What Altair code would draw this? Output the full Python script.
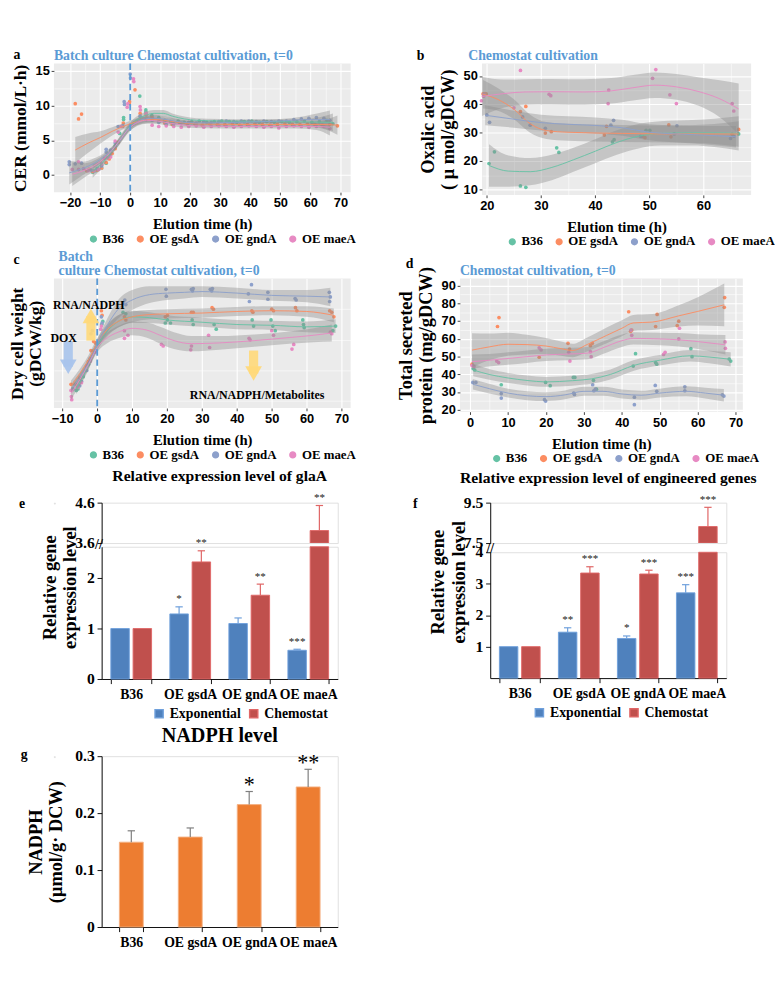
import json
import altair as alt
import pandas as pd

SERIF = "Liberation Serif"
SANS = "Liberation Sans"
BLUE_TXT = "#5B9BD5"

SERIES = ["B36", "OE gsdA", "OE gndA", "OE maeA"]
SERIES_COLORS = ["#66C2A5", "#FC8D62", "#8DA0CB", "#E78AC3"]

# ---------------- panel a : CER (x = elution time h, y = mmol/L/h) ----------------
A_PTS_B36 = [(-12.5,0.4),(-11.5,0.6),(-10.5,0.8),(-9.5,1.0),(-8,1.7),(-6.5,2.9),(-5,4.2),(-3.5,6.0),(-2.2,8.0),(-2.2,8.3),(3.2,11.4),(5.2,9.4),(5.2,9.1),(7.2,8.6),(9.5,8.3),(11.5,7.9),(13.5,7.7),(16,7.8),(18,7.6),(20.5,7.7),(23,7.8),(25.5,7.6),(28,7.7),(30.5,7.8),(33,7.7),(35.5,7.6),(38,7.7),(40.5,7.8),(43,7.6),(45.5,7.7),(48,7.6),(50.5,7.7),(53,7.6),(55.5,7.7),(58,7.8),(60.5,7.6),(63,7.7),(65.5,7.9),(67.5,7.4)]
A_PTS_GSDA = [(-18.3,10.3),(-17.2,8.1),(-16.2,8.8),(-14.5,0.6),(-13.7,0.8),(-12.5,0.5),(-11,0.7),(-9.5,1.0),(-8,1.8),(-7,2.3),(-6,3.1),(-5,3.8),(-4,4.7),(-2.5,7.0),(-2.3,7.5),(-0.3,10.3),(-0.2,10.6),(1.6,12.3),(3.3,8.9),(5.3,8.7),(7.3,8.3),(9.5,7.7),(11.5,7.5),(14,7.3),(16.5,7.5),(19,7.3),(21.5,7.4),(24,7.2),(26.5,7.4),(29,7.3),(31.5,7.3),(34,7.4),(36.5,7.2),(39,7.3),(41.5,7.4),(44,7.3),(46.5,7.2),(49,7.3),(51.5,7.4),(54,7.3),(56.5,7.3),(59,7.4),(61.5,7.3),(64,7.2),(66.5,7.3),(69,7.1)]
A_PTS_GNDA = [(-20.3,1.9),(-20.3,1.5),(-18.3,1.6),(-16.2,1.7),(-13,0.7),(-11,0.9),(-9.5,1.3),(-8,3.7),(-8,3.3),(-6.5,3.6),(-5,4.6),(-4,7.0),(-2.5,7.1),(-2,10.6),(-1.9,10.2),(0,14.6),(0.1,14.0),(3.3,8.5),(5.3,8.0),(7.3,7.9),(9.5,7.6),(12,7.3),(14.5,7.4),(17,7.5),(19.5,7.6),(22,7.5),(24.5,7.7),(27,7.6),(29.5,7.7),(32,7.8),(34.5,7.7),(37,7.8),(39.5,7.8),(42,7.7),(44.5,7.8),(47,7.7),(49.5,7.8),(52,7.8),(54.5,8.0),(57,8.1),(59.5,8.2),(62,8.3),(64.5,8.2),(66.5,7.9)]
A_PTS_MAEA = [(-19.3,0.8),(-17.2,1.9),(-17.2,0.8),(-15.5,0.9),(-14,0.6),(-12,0.6),(-10.5,0.8),(-9.5,1.6),(-8.5,2.4),(-7.5,2.5),(-6.5,2.6),(-5,4.9),(-4,6.2),(-3,7.0),(-1,9.8),(-0.8,10.3),(1.1,13.9),(1.2,13.5),(3.3,9.9),(3.4,9.4),(5.3,8.9),(7.3,7.2),(9.5,7.0),(12,7.1),(14.5,7.0),(17,6.9),(19.5,7.0),(22,7.1),(24.5,6.9),(27,7.0),(29.5,7.1),(32,7.0),(34.5,6.9),(37,7.0),(39.5,7.1),(42,7.0),(44.5,6.9),(47,7.0),(49.5,6.8),(52,7.0),(54.5,7.1),(57,7.0),(59.5,6.9),(62,7.0),(64.5,7.0),(66.5,6.7)]
# smooth fits: (x, fitted y, half width of grey band)
A_FIT_B36 = [(-12.5,0.6,1.0),(-10,1.4,0.7),(-7,2.9,0.5),(-4,4.7,0.5),(-1,6.6,0.5),(2,7.9,0.5),(5,8.6,0.5),(8,8.9,0.5),(11,8.9,0.5),(14,8.5,0.4),(18,8.1,0.35),(22,7.9,0.3),(30,7.8,0.3),(40,7.75,0.3),(50,7.7,0.3),(60,7.65,0.5),(67.5,7.6,1.3)]
A_FIT_GSDA = [(-18.3,3.6,1.9),(-14,4.6,1.4),(-10,5.4,0.9),(-6,6.3,0.6),(-3,6.9,0.45),(0,7.4,0.45),(3,7.8,0.5),(6,8.0,0.5),(9,8.0,0.45),(13,7.8,0.4),(18,7.5,0.35),(25,7.35,0.3),(35,7.3,0.3),(45,7.3,0.3),(55,7.3,0.3),(63,7.3,0.5),(69,7.2,1.4)]
A_FIT_GNDA = [(-20.3,0.3,1.7),(-16,0.9,1.0),(-12,1.7,0.7),(-8,2.9,0.5),(-4,4.6,0.5),(-1,6.4,0.5),(2,7.6,0.5),(5,8.1,0.5),(8,8.2,0.5),(12,8.0,0.4),(16,7.7,0.35),(22,7.5,0.3),(30,7.55,0.3),(40,7.65,0.3),(50,7.8,0.3),(58,8.0,0.5),(66.5,8.0,1.3)]
A_FIT_MAEA = [(-19.3,0.1,1.7),(-15,0.7,1.0),(-11,1.6,0.7),(-7,3.1,0.5),(-3.5,5.0,0.5),(-0.5,6.7,0.5),(2.5,7.6,0.5),(5.5,7.9,0.5),(9,7.8,0.45),(13,7.5,0.4),(18,7.2,0.35),(25,7.05,0.3),(35,7.0,0.3),(45,7.0,0.3),(55,7.0,0.3),(62,7.0,0.5),(66.5,6.9,1.2)]

# ---------------- panel b : oxalic acid ----------------
B_PTS_B36 = [(20.4,19.2),(21.4,23.3),(26.2,11.3),(27.2,10.8),(32.9,24.7),(33.3,23.1),(43.2,26.8),(43.5,27.6),(49.4,30.9),(50.1,30.9),(66.5,29.6)]
B_PTS_GSDA = [(19.3,43.7),(19.6,43.7),(19.9,43.7),(26.2,37.5),(27.2,39.3),(30.8,29.9),(31.9,30.4),(41.7,29.2),(42.1,32.3),(48.8,28.7),(49.2,28.3),(53.6,32.8),(54.0,28.6),(65.3,29.5),(66.5,31.2)]
B_PTS_GNDA = [(20.0,36.3),(20.5,33.7),(26.6,35.6),(28.0,32.7),(30.8,31.6),(42.9,32.7),(43.4,34.4),(48.4,28.8),(55.1,32.5),(54.6,29.6),(65.0,28.0),(65.6,28.8)]
B_PTS_MAEA = [(19.0,41.3),(19.4,42.9),(19.5,43.6),(25.0,38.8),(26.2,52.0),(31.5,43.6),(31.8,43.1),(42.4,40.3),(42.5,45.1),(50.6,49.2),(51.2,52.3),(53.8,43.4),(55.0,40.3),(65.3,40.3),(65.6,37.7)]
B_FIT_B36 = [(20.4,18.5,7.5),(24,16.5,5.5),(28,16.3,4.8),(32,17.8,4.5),(36,20.5,4.2),(40,23.5,4.2),(44,26.6,4.3),(48,28.8,4.3),(52,29.8,4.3),(58,30.0,4.5),(62,30.0,5.0),(66.5,29.8,6.0)]
B_FIT_GSDA = [(19.3,43.6,5.0),(22,41.8,4.0),(25,38.3,3.5),(28,33.2,3.2),(31,30.8,3.0),(35,30.2,3.0),(45,29.8,3.0),(55,29.6,3.0),(62,29.6,3.5),(66.5,29.6,4.5)]
B_FIT_GNDA = [(19.7,36.2,3.5),(25,34.8,3.0),(30,33.6,2.8),(35,33.0,2.8),(40,32.6,2.8),(45,31.8,2.8),(50,30.2,2.8),(55,29.6,3.0),(60,29.2,3.2),(66,28.6,3.8)]
B_FIT_MAEA = [(19,42.8,7.0),(23,43.8,5.0),(27,44.4,4.5),(32,44.5,4.5),(38,44.4,4.5),(43,44.8,4.5),(47,45.9,4.5),(51,46.8,4.5),(55,46.2,4.5),(59,44.6,5.0),(63,42.0,6.5),(66.5,38.4,9.0)]

# ---------------- panel c : dry cell weight ----------------
C_PTS_B36 = [(-6.0,1.7),(-5.5,1.8),(-4,2.6),(-2.5,3.4),(-1,4.3),(1.6,6.2),(1.3,6.0),(7.4,6.8),(8.2,6.7),(19.5,6.1),(20.1,6.3),(21,6.1),(27.2,6.3),(27.5,6.0),(34.1,5.7),(33.5,6.0),(44.4,6.3),(44.8,5.9),(49.8,6.3),(50.3,5.9),(51,5.6),(58.9,6.3),(59.1,6.0),(59.3,5.8),(67.5,5.6),(68.3,5.9)]
C_PTS_GSDA = [(-7.5,2.1),(-6.3,2.1),(-5,2.5),(-3.2,3.0),(-2.5,3.6),(-1.8,4.3),(-1.0,4.9),(-0.5,4.8),(1.2,6.9),(1.4,6.6),(7.8,6.5),(8.2,6.3),(20.1,6.6),(19.5,6.5),(27.0,6.8),(27.5,6.8),(32.9,7.1),(33.3,7.0),(44.3,6.9),(44.6,6.8),(50.0,7.0),(50.5,6.9),(56.8,7.1),(57.2,6.9),(66.6,6.9),(67.2,6.8),(67.8,6.5)]
C_PTS_GNDA = [(-7,1.8),(-5,2.0),(-4.5,2.3),(-3,3.0),(-2,3.8),(-1.8,5.4),(-1.4,5.6),(1.2,6.5),(1.4,6.1),(7.4,7.4),(7.9,7.6),(8.2,7.3),(19.7,8.3),(19.8,7.85),(27.0,8.3),(27.3,8.2),(27.5,8.35),(32.4,8.3),(32.8,8.2),(33.0,8.35),(43.3,8.0),(43.6,7.5),(44.2,8.6),(48.9,8.1),(48.9,7.65),(56.7,7.7),(57.0,7.6),(66.5,8.1),(66.8,7.8),(66.6,7.5)]
C_PTS_MAEA = [(-7.5,1.7),(-7.4,1.3),(-7.3,1.1),(-5.5,1.9),(-4.5,2.2),(-3,3.3),(-2,3.6),(-0.5,4.2),(1.2,5.9),(1.0,5.7),(7.8,5.6),(7.8,5.1),(8.8,5.3),(18.4,4.7),(18.9,4.6),(26.8,4.35),(27.0,4.6),(31.9,5.3),(32.2,4.5),(43.5,5.1),(43.8,5.0),(50.0,5.6),(50.5,5.3),(55.8,4.4),(56.3,4.7),(66.8,5.5),(67.2,5.4)]
C_FIT_B36 = [(-6,1.8,0.35),(-3,3.1,0.3),(0,4.6,0.3),(3,5.6,0.35),(6,6.2,0.4),(10,6.5,0.4),(15,6.45,0.35),(20,6.3,0.3),(30,6.15,0.3),(40,6.0,0.3),(50,5.95,0.3),(60,5.85,0.35),(68.3,5.9,0.45)]
C_FIT_GSDA = [(-7.5,2.0,0.35),(-5,2.8,0.3),(-2.5,3.7,0.3),(0,4.8,0.3),(3,5.7,0.35),(6,6.2,0.4),(10,6.5,0.35),(15,6.65,0.3),(20,6.7,0.3),(30,6.75,0.3),(40,6.85,0.3),(50,6.9,0.3),(60,6.85,0.35),(67.8,6.6,0.45)]
C_FIT_GNDA = [(-7,1.9,0.35),(-4.5,2.7,0.3),(-2,3.7,0.3),(0,4.7,0.3),(3,6.0,0.45),(6,7.0,0.6),(10,7.6,0.65),(15,7.95,0.55),(20,8.05,0.45),(25,8.1,0.4),(30,8.15,0.35),(40,8.05,0.35),(50,7.9,0.35),(60,7.85,0.4),(66.8,7.8,0.6)]
C_FIT_MAEA = [(-7.5,1.5,0.4),(-5,2.4,0.35),(-2.5,3.4,0.3),(0,4.5,0.3),(3,5.15,0.35),(6,5.5,0.4),(10,5.75,0.45),(14,5.65,0.5),(18,5.3,0.55),(22,4.95,0.55),(27,4.75,0.5),(35,4.8,0.45),(45,4.95,0.4),(55,5.15,0.4),(62,5.3,0.45),(67.2,5.45,0.55)]
# annotations of panel c (data coordinates)
C_ARROW_X = [-1.8, -8.3, 44.8]
C_ARROW_FROM = [4.95, 4.9, 4.3]
C_ARROW_HEAD = [6.55, 3.25, 2.8]
C_ARROW_SHAPE = ["triangle-up", "triangle-down", "triangle-down"]
C_ARROW_COLOR = ["#FFD97A", "#A9C4EC", "#FFD97A"]
C_NOTE_X = [-2.4, -9.6, 45.8]
C_NOTE_Y = [7.25, 5.1, 1.4]
C_NOTE_TEXT = ["RNA/NADPH", "DOX", "RNA/NADPH/Metabolites"]

# ---------------- panel d : total secreted protein ----------------
D_PTS_B36 = [(0.8,43.3),(1.2,42.5),(8.2,34.2),(19.9,35.5),(21.1,33.7),(27.2,38.3),(27.6,38.3),(32.5,36.7),(33.3,31.7),(43.0,44.7),(43.6,51.7),(48.9,46.7),(49.2,45.8),(58.2,54.5),(58.5,50.0),(68.3,48.7),(68.7,47.5)]
D_PTS_GSDA = [(0.5,45.8),(7.2,67.0),(7.6,72.0),(18.2,49.7),(25.8,57.5),(26.2,54.3),(31.7,56.2),(32.2,57.5),(41.8,75.3),(42.3,64.3),(42.6,65.0),(48.9,67.0),(49.3,73.8),(54.6,67.5),(55.0,70.0),(67.1,83.3),(67.0,77.8)]
D_PTS_GNDA = [(0.7,35.5),(1.5,35.5),(8.2,29.2),(8.2,26.7),(19.6,25.8),(19.9,25.0),(27.3,29.5),(27.5,28.7),(32.3,34.2),(32.6,30.8),(33.0,31.7),(43.3,27.2),(43.3,23.0),(48.8,33.8),(49.2,30.5),(56.6,33.0),(56.6,30.8),(66.5,28.5),(66.9,27.8)]
D_PTS_MAEA = [(0.5,45.0),(1.0,44.5),(7.0,47.5),(7.5,46.7),(18.2,55.0),(18.7,53.8),(26.0,52.5),(26.3,47.5),(31.7,52.8),(31.9,50.0),(42.4,65.0),(42.6,62.0),(51.0,51.3),(51.4,52.5),(55.0,60.0),(55.2,66.0),(67.2,58.3),(67.3,54.7)]
D_FIT_B36 = [(0.8,42.5,3.5),(5,40.0,3.0),(10,38.0,2.8),(15,36.6,2.8),(20,35.8,2.8),(27,36.5,2.8),(32,37.5,2.8),(37,40.0,2.8),(43,45.0,3.0),(50,48.0,3.0),(58,50.5,3.2),(63,49.8,3.5),(68.7,48.5,4.0)]
D_FIT_GSDA = [(0.5,53.7,9.5),(5,55.5,7.5),(10,57.0,6.5),(15,56.8,5.5),(20,56.0,4.5),(24,54.5,4.0),(27,53.5,3.8),(31,57.0,4.0),(36,62.0,4.5),(40,66.0,4.5),(43,69.0,4.5),(48,69.5,4.5),(55,73.0,6.0),(60,75.5,8.0),(67,79.2,12.0)]
D_FIT_GNDA = [(0.7,34.5,3.0),(5,32.0,2.8),(10,29.5,2.5),(15,28.0,2.5),(20,27.5,2.5),(25,28.5,2.5),(30,30.5,2.5),(35,30.5,2.5),(40,29.0,2.5),(45,28.3,2.5),(50,29.5,2.5),(57,30.5,2.8),(62,29.5,3.0),(66.9,28.3,3.5)]
D_FIT_MAEA = [(0.5,47.2,4.0),(5,48.0,3.5),(10,49.0,3.5),(15,50.0,3.5),(20,51.0,3.5),(26,51.5,3.5),(31,52.0,3.5),(35,55.0,3.5),(40,59.0,3.5),(43,60.3,3.5),(50,60.0,3.5),(55,59.5,3.8),(60,58.5,4.2),(67.3,56.7,5.5)]

# ---------------- panels e, f, g : bar charts ----------------
GENOTYPES = ["B36", "OE gsdA", "OE gndA", "OE maeA"]
CONDITIONS = ["Exponential", "Chemostat"]
E_EXP = [1.0, 1.29, 1.10, 0.57]
E_EXP_SD = [0.0, 0.14, 0.11, 0.02]
E_EXP_SIG = ["", "*", "", "***"]
E_CHEM = [1.0, 2.32, 1.66, 3.91]
E_CHEM_SD = [0.0, 0.22, 0.22, 0.62]
E_CHEM_SIG = ["", "**", "**", "**"]
F_EXP = [1.0, 1.46, 1.26, 2.71]
F_EXP_SD = [0.0, 0.14, 0.08, 0.26]
F_EXP_SIG = ["", "**", "*", "***"]
F_CHEM = [1.0, 3.34, 3.31, 8.32]
F_CHEM_SD = [0.0, 0.20, 0.12, 0.95]
F_CHEM_SIG = ["", "***", "***", "***"]
G_NADPH = [0.149, 0.158, 0.215, 0.246]
G_NADPH_SD = [0.020, 0.016, 0.023, 0.031]
G_NADPH_SIG = ["", "", "*", "**"]


def pts_frame(lists):
    rows = []
    for s, pts in zip(SERIES, lists):
        for x, y in pts:
            rows.append({"series": s, "x": x, "y": y})
    return pd.DataFrame(rows)


def fit_frame(lists):
    rows = []
    for s, pts in zip(SERIES, lists):
        for x, y, hw in pts:
            rows.append({"grp": s, "x": x, "y": y, "lo": y - hw, "hi": y + hw})
    return pd.DataFrame(rows)


def gg_axis(majors, minors, title, title_size=16, title_pad=8, line_height=None):
    test = "indexof(%s, datum.value) >= 0" % json.dumps(majors)
    return alt.Axis(
        values=sorted(majors + minors), labelExpr=f"{test} ? datum.label : ''",
        grid=True, gridColor="white",
        gridWidth={"condition": {"test": test, "value": 1.2}, "value": 0.6},
        tickOpacity={"condition": {"test": test, "value": 1}, "value": 0},
        tickColor="#333333", tickSize=3, domain=False, labelOverlap=False, labelFlush=False,
        labelFont=SANS, labelFontWeight="bold", labelFontSize=14, labelColor="black", labelPadding=2,
        title=title, titleFont=SERIF, titleFontWeight="bold", titleFontSize=title_size,
        titleColor="black", titlePadding=title_pad, titleLineHeight=line_height or title_size + 2)


def bottom_legend(pad_x, offset, font_size, symbol_type, symbol_size, column_padding=10, label_offset=3):
    return alt.Legend(orient="bottom", direction="horizontal", title="\u00a0", titleOrient="left",
                      titleFontSize=2, titlePadding=pad_x, offset=offset, symbolType=symbol_type,
                      symbolSize=symbol_size, labelFont=SERIF, labelFontWeight="bold",
                      labelFontSize=font_size, labelColor="black", labelOffset=label_offset,
                      columnPadding=column_padding)


def text_layer(text, lx, ly, size=15, color="black", line_height=None, align="left"):
    kw = {}
    if line_height:
        kw["lineHeight"] = line_height
    return alt.Chart(pd.DataFrame({"k": [0]})).mark_text(
        text=text, font=SERIF, fontWeight="bold", fontSize=size, align=align, baseline="alphabetic",
        color=color, **kw
    ).encode(x=alt.value(lx), y=alt.value(ly))


def gg_panel(pts, fits, xdom, ydom, w, h, xmaj, xmin, ymaj, ymin, ytitle, ytsize, ytpad,
             title, title_xy, letter, letter_xy, legend_x, extra=(), dashed=False, yt_lh=None):
    dfp = pts_frame(pts)
    dff = fit_frame(fits)
    xs = alt.Scale(domain=xdom, nice=False, zero=False)
    ys = alt.Scale(domain=ydom, nice=False, zero=False)
    xax = gg_axis(xmaj, xmin, "Elution time (h)", 16, 8)
    yax = gg_axis(ymaj, ymin, ytitle, ytsize, ytpad, yt_lh)
    leg = bottom_legend(legend_x, 1, 14, "circle", 40)
    dots = alt.Chart(dfp).mark_circle(size=16, opacity=1).encode(
        x=alt.X("x:Q", scale=xs, axis=xax), y=alt.Y("y:Q", scale=ys, axis=yax),
        color=alt.Color("series:N", scale=alt.Scale(domain=SERIES, range=SERIES_COLORS), legend=leg))
    band = alt.Chart(dff).mark_area(color="#8c8c8c", opacity=0.4, interpolate="monotone", clip=True).encode(
        x=alt.X("x:Q", scale=xs, axis=xax), y=alt.Y("lo:Q", scale=ys, axis=yax), y2="hi:Q",
        detail="grp:N")
    line = alt.Chart(dff).mark_line(strokeWidth=1, interpolate="monotone", clip=True).encode(
        x=alt.X("x:Q", scale=xs, axis=xax), y=alt.Y("y:Q", scale=ys, axis=yax),
        stroke=alt.Stroke("grp:N", scale=alt.Scale(domain=SERIES, range=SERIES_COLORS), legend=None),
        detail="grp:N")
    layers = [dots, band, line]
    if dashed:
        layers.append(alt.Chart(pd.DataFrame({"t": [0]})).mark_rule(
            color=BLUE_TXT, strokeDash=[7, 4], strokeWidth=2).encode(x=alt.X("t:Q", scale=xs, axis=xax)))
    layers += list(extra)
    layers.append(text_layer(title, title_xy[0], title_xy[1], 15, BLUE_TXT, 15))
    layers.append(text_layer(letter, letter_xy[0], letter_xy[1]))
    return alt.layer(*layers).properties(width=w, height=h,
                                         view=alt.ViewBackground(fill="#EBEBEB", stroke=None))


panel_a = gg_panel([A_PTS_B36, A_PTS_GSDA, A_PTS_GNDA, A_PTS_MAEA], [A_FIT_B36, A_FIT_GSDA, A_FIT_GNDA, A_FIT_MAEA],
                   [-25.4, 73.4], [-2.5, 16.1], 323, 140,
                   list(range(-20, 80, 10)), list(range(-15, 70, 10)), [0, 5, 10, 15], [2.5, 7.5, 12.5],
                   "CER (mmol/L·h)", 19, 6, "Batch culture Chemostat cultivation, t=0", (0, -4),
                   "a", (-44, -5), 36, dashed=True)

panel_b = gg_panel([B_PTS_B36, B_PTS_GSDA, B_PTS_GNDA, B_PTS_MAEA], [B_FIT_B36, B_FIT_GSDA, B_FIT_GNDA, B_FIT_MAEA],
                   [19.1, 68.8], [8.1, 54.4], 293, 143,
                   [20, 30, 40, 50, 60], [25, 35, 45, 55, 65], [10, 20, 30, 40, 50], [15, 25, 35, 45],
                   ["Oxalic acid", "( μ mol/gDCW)"], 20, 6, "Chemostat cultivation", (-15, -4),
                   "b", (-71, -4), 26)

c_ann_df = pd.DataFrame({"x": C_ARROW_X, "y0": C_ARROW_FROM, "y1": C_ARROW_HEAD,
                         "shape": C_ARROW_SHAPE, "col": C_ARROW_COLOR})
c_note_df = pd.DataFrame({"x": C_NOTE_X, "y": C_NOTE_Y, "t": C_NOTE_TEXT})
c_xs = alt.Scale(domain=[-12.4, 72.6], nice=False, zero=False)
c_ys = alt.Scale(domain=[0.55, 9.0], nice=False, zero=False)
c_extra = [
    alt.Chart(c_ann_df).mark_rule(strokeWidth=10, opacity=0.9).encode(
        x=alt.X("x:Q", scale=c_xs), y=alt.Y("y0:Q", scale=c_ys), y2="y1:Q", color=alt.Color("col:N", scale=None)),
    alt.Chart(c_ann_df).mark_point(filled=True, size=330, opacity=0.95).encode(
        x=alt.X("x:Q", scale=c_xs), y=alt.Y("y1:Q", scale=c_ys), shape=alt.Shape("shape:N", scale=None),
        color=alt.Color("col:N", scale=None)),
    alt.Chart(c_note_df).mark_text(font=SERIF, fontWeight="bold", fontSize=13, color="black").encode(
        x=alt.X("x:Q", scale=c_xs), y=alt.Y("y:Q", scale=c_ys), text="t:N"),
]
panel_c = gg_panel([C_PTS_B36, C_PTS_GSDA, C_PTS_GNDA, C_PTS_MAEA], [C_FIT_B36, C_FIT_GSDA, C_FIT_GNDA, C_FIT_MAEA],
                   [-12.4, 72.6], [0.55, 9.0], 323, 141,
                   list(range(-10, 80, 10)), list(range(-5, 70, 10)), [2, 4, 6, 8], [1, 3, 5, 7],
                   ["Dry cell weight", "(gDCW/kg)"], 19, 6, ["Batch", "culture Chemostat cultivation, t=0"], (5, -19),
                   "c", (-44, -16), 36, extra=c_extra, dashed=True, yt_lh=19)

panel_d = gg_panel([D_PTS_B36, D_PTS_GSDA, D_PTS_GNDA, D_PTS_MAEA], [D_FIT_B36, D_FIT_GSDA, D_FIT_GNDA, D_FIT_MAEA],
                   [-2.7, 71.9], [19, 94], 308, 145,
                   list(range(0, 80, 10)), list(range(5, 70, 10)), list(range(20, 100, 10)), list(range(25, 90, 10)),
                   ["Total secreted", "protein (mg/gDCW)"], 20, 6, "Chemostat cultivation, t=0", (0, -4),
                   "d", (-59, -12), 33)


# ---------------- bar panels ----------------
def bar_frame(ev, es, eg, cv, cs, cg, brk):
    rows = []
    for i, g in enumerate(GENOTYPES):
        for cond, v, s, sg in (("Exponential", ev[i], es[i], eg[i]), ("Chemostat", cv[i], cs[i], cg[i])):
            # 'seg' is the part of the bar drawn below the axis break
            rows.append({"genotype": g, "cond": cond, "value": v, "top": v + s, "sd": s, "sig": sg,
                         "seg": min(v, brk)})
    return pd.DataFrame(rows)


X_AXIS = alt.Axis(title=None, labelAngle=0, labelFont=SERIF, labelFontWeight="bold", labelFontSize=15,
                  labelColor="black", domainColor="black", tickColor="black", tickSize=5, tickBand="extent",
                  labelPadding=4)


def y_axis(values, title=None, title_y=None, title_pad=8):
    kw = {}
    if title_y is not None:
        kw["titleY"] = title_y
    return alt.Axis(values=values, format=".3~g", grid=False, labelFont=SERIF, labelFontWeight="bold",
                    labelFontSize=17, labelColor="black", domainColor="black", tickColor="black", tickSize=5,
                    labelPadding=3, title=title, titleFont=SERIF, titleFontWeight="bold", titleFontSize=20,
                    titleColor="black", titlePadding=title_pad, titleLineHeight=22, **kw)


def grouped_part(df, lo, hi, ticks, top_part, ytitle=None, title_y=None, legend_x=None, star_size=12):
    xenc = alt.X("genotype:N", sort=GENOTYPES,
                 scale=alt.Scale(domain=GENOTYPES, paddingInner=0.31, paddingOuter=0.155),
                 axis=None if top_part else X_AXIS)
    xoff = alt.XOffset("cond:N", sort=CONDITIONS, scale=alt.Scale(domain=CONDITIONS, paddingInner=0.17))
    ys = alt.Scale(domain=[lo, hi], nice=False, zero=False)
    yax = y_axis(ticks, ytitle, title_y)
    fill_leg = None
    if legend_x is not None:
        fill_leg = bottom_legend(legend_x, 6, 15, "square", 80, 6, 4)
    stroke_enc = alt.Stroke("cond:N", scale=alt.Scale(domain=CONDITIONS, range=["#6FA0DC", "#E06666"]), legend=None)
    fill_enc = alt.Fill("cond:N", scale=alt.Scale(domain=CONDITIONS, range=["#4F81BD", "#C0504D"]), legend=fill_leg)
    if top_part:
        # segment of the bar above the axis break
        bars = alt.Chart(df).mark_bar(strokeWidth=1, clip=True).encode(
            x=xenc, xOffset=xoff, y=alt.Y("value:Q", scale=ys, axis=yax), y2=alt.datum(lo),
            fill=fill_enc, stroke=stroke_enc, opacity=alt.condition(f"datum.value > {lo}", alt.value(1), alt.value(0)))
    else:
        # segment of the bar below the axis break
        bars = alt.Chart(df).mark_bar(strokeWidth=1).encode(
            x=xenc, xOffset=xoff, y=alt.Y("seg:Q", scale=ys, axis=yax), y2=alt.datum(0),
            fill=fill_enc, stroke=stroke_enc)
    flt = f"datum.sd > 0 && datum.top > {lo} && datum.top <= {hi}"
    err = alt.Chart(df).transform_filter(flt).mark_rule(strokeWidth=1.3).encode(
        x=xenc, xOffset=xoff, y=alt.Y("value:Q", scale=ys, axis=yax), y2="top:Q", stroke=stroke_enc)
    cap = alt.Chart(df).transform_filter(flt).mark_point(shape="stroke", size=64, strokeWidth=1.3, opacity=1).encode(
        x=xenc, xOffset=xoff, y=alt.Y("top:Q", scale=ys, axis=yax), stroke=stroke_enc)
    star = alt.Chart(df).transform_filter(f"datum.sig != '' && datum.top > {lo} && datum.top <= {hi}").mark_text(
        font=SERIF, fontSize=star_size, baseline="bottom", dy=-2, color="#222222").encode(
        x=xenc, xOffset=xoff, y=alt.Y("top:Q", scale=ys, axis=yax), text="sig:N")
    return [bars, err, cap, star]


def broken_panel(df, top_dom, bot_dom, bot_ticks, top_h, bot_h, gap, title, letter, letter_x,
                 title_y, legend_x, brk_xy):
    top_layers = grouped_part(df, top_dom[0], top_dom[1], top_dom, True)
    top_layers.append(text_layer(letter, letter_x, 6))
    top = alt.layer(*top_layers).properties(
        width=257, height=top_h,
        title=alt.TitleParams(title, anchor="middle", offset=8, font=SERIF, fontWeight="bold", fontSize=17,
                              color="black"))
    bot_layers = grouped_part(df, bot_dom[0], bot_dom[1], bot_ticks, False,
                              ["Relative gene", "expression level"], title_y, legend_x)
    bot_layers.append(alt.Chart(pd.DataFrame({"t": ["//"]})).mark_text(
        font=SERIF, fontWeight="bold", fontSize=15, color="black", baseline="middle").encode(
        text="t:N", x=alt.value(brk_xy[0]), y=alt.value(brk_xy[1])))
    bot = alt.layer(*bot_layers).properties(width=257, height=bot_h)
    return alt.vconcat(top, bot, spacing=gap, bounds="flush").resolve_scale(
        x="independent", y="independent", fill="independent", stroke="independent", opacity="independent")


E_BREAK = 2.62
F_BREAK = 4.0
df_e = bar_frame(E_EXP, E_EXP_SD, E_EXP_SIG, E_CHEM, E_CHEM_SD, E_CHEM_SIG, E_BREAK)
df_f = bar_frame(F_EXP, F_EXP_SD, F_EXP_SIG, F_CHEM, F_CHEM_SD, F_CHEM_SIG, F_BREAK)

panel_e = broken_panel(df_e, [3.6, 4.6], [0, E_BREAK], [0, 1, 2], 44, 144, 4,
                       "Relative expression level of glaA", "e", -90, 44, 55, (-3, -3))
panel_f = broken_panel(df_f, [7.5, 9.5], [0, F_BREAK], [1, 2, 3, 4], 44, 137, 10,
                       "Relative expression level of engineered genes", "f", -84, 32, 46, (0, -4))

# ---------------- panel g ----------------
df_g = pd.DataFrame({"genotype": GENOTYPES, "value": G_NADPH,
                     "top": [v + s for v, s in zip(G_NADPH, G_NADPH_SD)], "sig": G_NADPH_SIG})
g_x = alt.X("genotype:N", sort=GENOTYPES, scale=alt.Scale(domain=GENOTYPES, paddingInner=0.595, paddingOuter=0.3),
            axis=X_AXIS)
g_ys = alt.Scale(domain=[0, 0.3], nice=False)
g_yax = y_axis([0, 0.1, 0.2, 0.3], ["NADPH", "(μmol/g· DCW)"], None, 10)
g_bars = alt.Chart(df_g).mark_bar(color="#ED7D31", stroke="#F4B183", strokeWidth=1).encode(
    x=g_x, y=alt.Y("value:Q", scale=g_ys, axis=g_yax))
g_err = alt.Chart(df_g).mark_rule(color="#7F7F7F", strokeWidth=1.3).encode(
    x=g_x, y=alt.Y("value:Q", scale=g_ys, axis=g_yax), y2="top:Q")
g_cap = alt.Chart(df_g).mark_point(shape="stroke", size=64, strokeWidth=1.3, color="#7F7F7F", opacity=1).encode(
    x=g_x, y=alt.Y("top:Q", scale=g_ys, axis=g_yax))
g_star = alt.Chart(df_g).transform_filter("datum.sig != ''").mark_text(
    font=SERIF, fontSize=24, baseline="bottom", dy=6, color="black").encode(
    x=g_x, y=alt.Y("top:Q", scale=g_ys, axis=g_yax), text="sig:N")
panel_g = alt.layer(g_bars, g_err, g_cap, g_star, text_layer("g", -88, 3)).properties(
    width=257, height=186,
    title=alt.TitleParams("NADPH level", anchor="middle", offset=2, font=SERIF, fontWeight="bold",
                          fontSize=22, color="black"))


def spacer():
    return alt.Chart(pd.DataFrame({"k": [0]})).mark_point(opacity=0, size=1).encode(
        x=alt.value(0), y=alt.value(0)).properties(width=1, height=1)


RES = dict(x="independent", y="independent", color="independent", stroke="independent", fill="independent",
           shape="independent", opacity="independent")
row1 = alt.hconcat(panel_a, panel_b, spacing=66).resolve_scale(**RES)
row2 = alt.hconcat(panel_c, panel_d, spacing=44).resolve_scale(**RES)
row3_inner = alt.hconcat(panel_e, panel_f, spacing=80).resolve_scale(**RES)
row3 = alt.hconcat(spacer(), row3_inner, spacing=-41).resolve_scale(**RES)
row4 = alt.hconcat(spacer(), panel_g, spacing=-39).resolve_scale(**RES)

chart = alt.vconcat(row1, row2, row3, row4, spacing=2).resolve_scale(**RES).properties(
    padding={"left": 0, "top": 0, "right": 0, "bottom": 0}
).configure_view(stroke=None).configure(font=SERIF)

chart.save("out.html", embed_options={"renderer": "svg", "actions": False})
